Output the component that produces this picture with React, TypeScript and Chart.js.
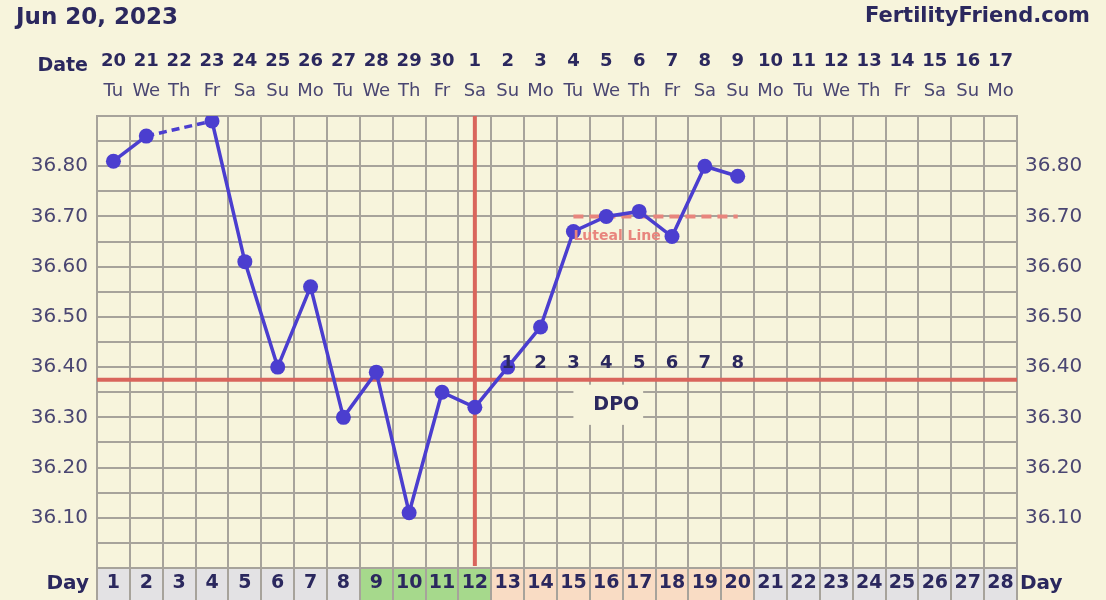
import React, { useEffect, useRef } from 'react';
import { Chart, registerables } from 'chart.js';

Chart.register(...registerables);

// cycle day numbers (bottom row)
const dayNumbers = [
  '1', '2', '3', '4', '5', '6', '7', '8', '9', '10', '11', '12', '13', '14',
  '15', '16', '17', '18', '19', '20', '21', '22', '23', '24', '25', '26', '27', '28',
];
// calendar dates (top row)
const dates = [
  '20', '21', '22', '23', '24', '25', '26', '27', '28', '29', '30', '1', '2', '3',
  '4', '5', '6', '7', '8', '9', '10', '11', '12', '13', '14', '15', '16', '17',
];
const weekdays = [
  'Tu', 'We', 'Th', 'Fr', 'Sa', 'Su', 'Mo', 'Tu', 'We', 'Th', 'Fr', 'Sa', 'Su', 'Mo',
  'Tu', 'We', 'Th', 'Fr', 'Sa', 'Su', 'Mo', 'Tu', 'We', 'Th', 'Fr', 'Sa', 'Su', 'Mo',
];
// basal body temperatures, null = not recorded
const temps = [
  36.81, 36.86, null, 36.89, 36.61, 36.40, 36.56, 36.30, 36.39, 36.11, 36.35, 36.32, 36.40, 36.48,
  36.67, 36.70, 36.71, 36.66, 36.80, 36.78, null, null, null, null, null, null, null, null,
];
const lutealLine = [
  null, null, null, null, null, null, null, null, null, null, null, null, null, null,
  36.70, 36.70, 36.70, 36.70, 36.70, 36.70, null, null, null, null, null, null, null, null,
];
const dpoLabels = [
  '', '', '', '', '', '', '', '', '', '', '', '', '1', '2',
  '3', '4', '5', '6', '7', '8', '', '', '', '', '', '', '', '',
];
const dayPhases = [
  'plain', 'plain', 'plain', 'plain', 'plain', 'plain', 'plain', 'plain',
  'fertile', 'fertile', 'fertile', 'fertile',
  'luteal', 'luteal', 'luteal', 'luteal', 'luteal', 'luteal', 'luteal', 'luteal',
  'plain', 'plain', 'plain', 'plain', 'plain', 'plain', 'plain', 'plain',
];
const coverline = 36.375;
const ovulationDay = 12;
const tempMin = 36.0;
const tempMax = 36.9;

const FONT = "'DejaVu Sans', Verdana, sans-serif";
const NAVY = '#2b285e';
const TICK = '#4a4672';
const BG = '#f7f4dc';
const GRID = '#a7a39b';
const LINE = '#4b3ecf';
const RED = '#d9655c';
const SALMON = '#e8857d';
const phaseColors: Record<string, string> = {
  plain: '#e3e2e4',
  fertile: '#a6d98c',
  luteal: '#f9dcc4',
};

const fmtTemp = (v: number) => {
  const r = Math.round(v * 100);
  if (r % 10 !== 0 || r <= 3600 || r >= 3690) return '';
  return (r / 100).toFixed(2);
};

const chartDecor = {
  id: 'chartDecor',
  beforeDraw(chart: any) {
    const { ctx, scales } = chart;
    const x = scales.x;
    ctx.save();
    ctx.fillStyle = BG;
    ctx.fillRect(0, 0, chart.width, chart.height);
    const half = (x.getPixelForValue(1) - x.getPixelForValue(0)) / 2;
    dayPhases.forEach((ph, i) => {
      const cx = x.getPixelForValue(i);
      ctx.fillStyle = phaseColors[ph];
      ctx.fillRect(cx - half, x.top, half * 2, x.bottom - x.top);
    });
    ctx.restore();
  },
  beforeDatasetsDraw(chart: any) {
    const { ctx, chartArea, scales } = chart;
    const x = scales.x;
    const y = scales.y;
    ctx.save();
    // DPO label box hides the grid
    const bx0 = x.getPixelForValue(14);
    const bx1 = x.getPixelForValue(16) + 4;
    const by0 = y.getPixelForValue(coverline) + 5;
    const by1 = y.getPixelForValue(36.285);
    ctx.fillStyle = BG;
    ctx.fillRect(bx0, by0, bx1 - bx0, by1 - by0);

    // coverline + ovulation line
    ctx.strokeStyle = RED;
    ctx.lineWidth = 4;
    const cy = y.getPixelForValue(coverline);
    ctx.beginPath();
    ctx.moveTo(chartArea.left, cy);
    ctx.lineTo(chartArea.right, cy);
    const ox = x.getPixelForValue(ovulationDay - 1);
    ctx.moveTo(ox, chartArea.top);
    ctx.lineTo(ox, chartArea.bottom - 2);
    ctx.stroke();

    ctx.fillStyle = NAVY;
    ctx.font = `bold 19px ${FONT}`;
    ctx.textAlign = 'center';
    ctx.textBaseline = 'middle';
    ctx.fillText('DPO', (bx0 + bx1) / 2 + 8, (by0 + by1) / 2);
    ctx.restore();
  },
  afterDatasetsDraw(chart: any) {
    const { ctx, scales } = chart;
    const x = scales.x;
    const y = scales.y;
    ctx.save();
    ctx.textBaseline = 'middle';
    ctx.textAlign = 'center';
    ctx.fillStyle = NAVY;
    ctx.font = `bold 18px ${FONT}`;
    const cy = y.getPixelForValue(coverline);
    dpoLabels.forEach((t, i) => {
      if (t) ctx.fillText(t, x.getPixelForValue(i), cy - 16);
    });

    const lx = x.getPixelForValue(lutealLine.findIndex((v) => v !== null));
    ctx.textAlign = 'left';
    ctx.fillStyle = SALMON;
    ctx.font = `bold 14px ${FONT}`;
    ctx.fillText('Luteal Line', lx, y.getPixelForValue(36.70) + 20);

    // header
    ctx.fillStyle = NAVY;
    ctx.font = `bold 23px ${FONT}`;
    ctx.fillText('Jun 20, 2023', 16, 18);
    ctx.textAlign = 'right';
    ctx.font = `bold 21px ${FONT}`;
    ctx.fillText('FertilityFriend.com', 1090, 17);
    ctx.font = `bold 19px ${FONT}`;
    ctx.fillText('Date', 88, 66);
    ctx.font = `bold 20px ${FONT}`;
    ctx.fillText('Day', 89, 584);
    ctx.textAlign = 'left';
    ctx.fillText('Day', 1020, 584);
    ctx.restore();
  },
};

const tempTicks = (padding: number) => ({
  stepSize: 0.05,
  autoSkip: false,
  maxTicksLimit: 40,
  color: TICK,
  padding,
  font: { family: FONT, size: 20 },
  callback: (v: any) => fmtTemp(Number(v)),
});

const App: React.FC = () => {
  const canvasRef = useRef<HTMLCanvasElement>(null);

  useEffect(() => {
    if (!canvasRef.current) return;
    const chart = new Chart(canvasRef.current, {
      type: 'line',
      data: {
        labels: dayNumbers,
        datasets: [
          {
            data: temps,
            borderColor: LINE,
            backgroundColor: LINE,
            borderWidth: 3.5,
            pointRadius: 7.5,
            pointBorderWidth: 0,
            pointBackgroundColor: LINE,
            spanGaps: true,
            segment: {
              borderDash: (ctx: any) => (ctx.p0.skip || ctx.p1.skip ? [8, 5] : undefined),
            },
          },
          {
            data: lutealLine,
            borderColor: SALMON,
            borderWidth: 4,
            borderDash: [10, 6],
            pointRadius: 0,
          },
        ],
      },
      options: {
        responsive: false,
        animation: false,
        events: [],
        layout: { padding: { top: 36, left: 0, right: 0, bottom: 0 } },
        plugins: { legend: { display: false }, tooltip: { enabled: false } },
        scales: {
          x: {
            type: 'category',
            position: 'bottom',
            offset: true,
            grid: { offset: true, color: GRID, lineWidth: 2, drawTicks: true, tickLength: 32 },
            border: { color: GRID, width: 2 },
            ticks: {
              autoSkip: false,
              maxRotation: 0,
              color: NAVY,
              padding: -28,
              font: { family: FONT, size: 19, weight: 'bold' },
            },
            afterFit: (s: any) => { s.height = 32; },
          },
          xDate: {
            type: 'category',
            labels: dates,
            position: 'top',
            weight: 2,
            offset: true,
            grid: { display: false, drawTicks: false },
            border: { display: false },
            ticks: {
              autoSkip: false,
              maxRotation: 0,
              color: NAVY,
              padding: 2,
              font: { family: FONT, size: 18, weight: 'bold' },
            },
            afterFit: (s: any) => { s.height = 38; },
          },
          xDow: {
            type: 'category',
            labels: weekdays,
            position: 'top',
            weight: 1,
            offset: true,
            grid: { display: false, drawTicks: false },
            border: { display: false },
            ticks: {
              autoSkip: false,
              maxRotation: 0,
              color: TICK,
              padding: 14,
              font: { family: FONT, size: 18 },
            },
            afterFit: (s: any) => { s.height = 42; },
          },
          y: {
            type: 'linear',
            position: 'left',
            min: tempMin,
            max: tempMax,
            grid: { color: GRID, lineWidth: 2, drawTicks: false },
            border: { color: GRID, width: 2 },
            ticks: tempTicks(9),
            afterFit: (s: any) => { s.width = 97; },
          },
          y2: {
            type: 'linear',
            position: 'right',
            min: tempMin,
            max: tempMax,
            grid: { drawOnChartArea: false, drawTicks: false },
            border: { color: GRID, width: 2 },
            ticks: tempTicks(8),
            afterFit: (s: any) => { s.width = 89; },
          },
        },
      } as any,
      plugins: [chartDecor],
    });
    return () => chart.destroy();
  }, []);

  return (
    <div style={{ position: 'absolute', left: 0, top: 0, width: 1106, height: 600, background: BG }}>
      <canvas ref={canvasRef} width={1106} height={600} style={{ display: 'block' }} />
    </div>
  );
};

export default App;
